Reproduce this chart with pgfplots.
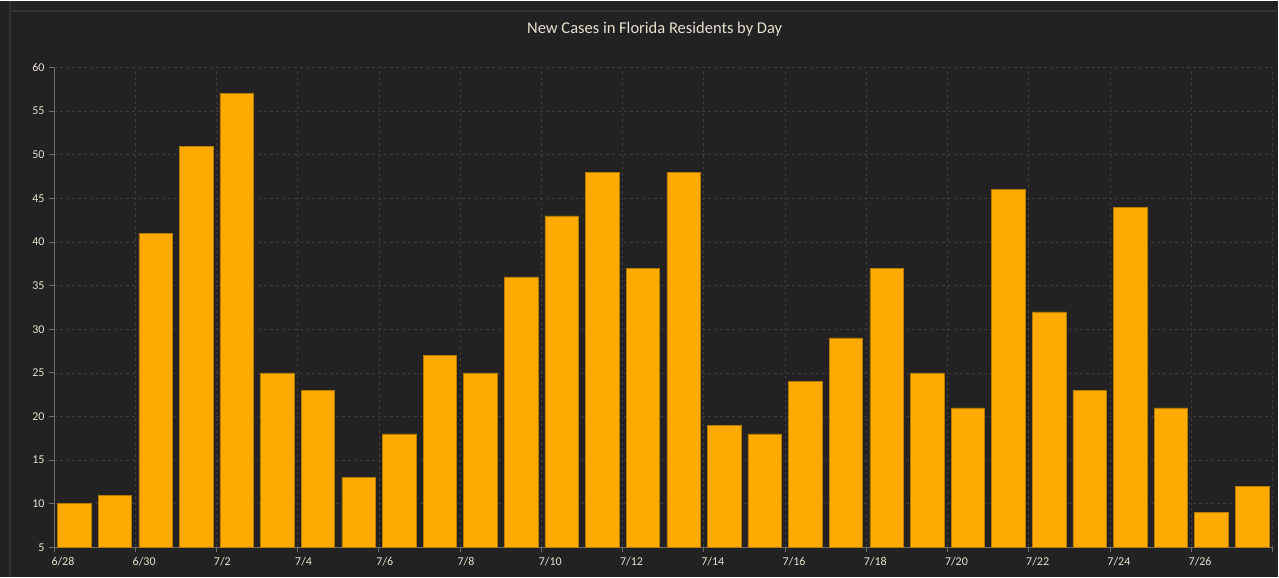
\documentclass[border=0pt]{standalone}
\usepackage{pgfplots}
\pgfplotsset{compat=1.18}
\usepackage{fontspec}
\setmainfont{Carlito}
\definecolor{bg}{HTML}{222222}
\definecolor{bar}{HTML}{FFAA00}
\definecolor{barline}{HTML}{B57A00}
\definecolor{txt}{HTML}{E6E1CC}
\definecolor{gridc}{HTML}{3C3C3C}
\definecolor{axc}{HTML}{6E6E6E}
\definecolor{panel}{HTML}{333333}
\pgfplotstableread{
x y
0.5 10
1.5 11
2.5 41
3.5 51
4.5 57
5.5 25
6.5 23
7.5 13
8.5 18
9.5 27
10.5 25
11.5 36
12.5 43
13.5 48
14.5 37
15.5 48
16.5 19
17.5 18
18.5 24
19.5 29
20.5 37
21.5 25
22.5 21
23.5 46
24.5 32
25.5 23
26.5 44
27.5 21
28.5 9
29.5 12
}\cases
\begin{document}
\begin{tikzpicture}[x=1pt,y=1pt]
\fill[bg] (0,0) rectangle (1279,577);
\draw[color=panel, line width=1.2pt] (10,0) -- (10,577);
\draw[color=panel, line width=1.2pt] (10,566.5) -- (1279,566.5);
\node[text=txt, font=\fontsize{16.5}{19}\selectfont] at (655,548) {New Cases in Florida Residents by Day};
\begin{axis}[
  at={(54pt,30pt)}, anchor=south west,
  scale only axis, width=1219pt, height=480pt,
  xmin=0, xmax=30, ymin=5, ymax=60,
  ytick={5,10,...,60},
  xtick={0,2,...,30},
  xticklabels={6/28,6/30,7/2,7/4,7/6,7/8,7/10,7/12,7/14,7/16,7/18,7/20,7/22,7/24,7/26,},
  axis lines=left, axis line style={-, color=axc, line width=0.8pt},
  tick align=outside, major tick length=5pt,
  tick style={color=axc, line width=0.8pt},
  grid=major, major grid style={color=gridc, dashed, line width=0.7pt},
  ticklabel style={text=txt, font=\fontsize{12}{14}\selectfont},
  /pgf/number format/assume math mode=true,
  xticklabel style={anchor=north west, xshift=-6pt, yshift=-1pt},
  yticklabel style={xshift=-1pt},
  clip=true,
]
\addplot[ybar, bar width=33.5pt, fill=bar, draw=barline, line width=0.5pt] table[x=x,y=y]{\cases};
\end{axis}
\end{tikzpicture}
\end{document}
